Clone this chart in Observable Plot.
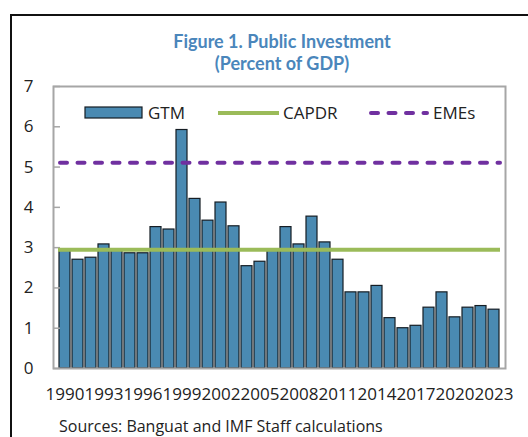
<!DOCTYPE html>
<html>
<head>
<meta charset="utf-8">
<script src="https://cdn.jsdelivr.net/npm/d3@7"></script>
<script src="https://cdn.jsdelivr.net/npm/@observablehq/plot@0.6"></script>
<style>
  html, body { margin: 0; padding: 0; background: #fff; overflow: hidden; }
  #wrap { position: relative; width: 528px; height: 437px; overflow: hidden; }
  #border { position: absolute; left: 10px; top: 14px; width: 700px; height: 700px;
            border-left: 2px solid #111; border-top: 2px solid #111; }
  #overlay { position: absolute; left: 0; top: 0; }
</style>
</head>
<body>
<div id="wrap"><div id="border"></div></div>
<script>
const years = d3.range(1990, 2024);
const gtm = [2.95, 2.70, 2.75, 3.08, 2.92, 2.86, 2.86, 3.51, 3.45, 5.92,
             4.21, 3.67, 4.12, 3.53, 2.54, 2.65, 2.93, 3.51, 3.08, 3.77,
             3.13, 2.70, 1.89, 1.89, 2.05, 1.25, 1.00, 1.06, 1.51, 1.89,
             1.27, 1.51, 1.55, 1.46];
const capdr = 2.95;
const emes = 5.11;
const yTicks = [0, 1, 2, 3, 4, 5, 6, 7];
const xTicks = [1990, 1993, 1996, 1999, 2002, 2005, 2008, 2011, 2014, 2017, 2020, 2023];
const titleLines = ["Figure 1. Public Investment", "(Percent of GDP)"];
const legendLabels = ["GTM", "CAPDR", "EMEs"];
const sourceText = "Sources: Banguat and IMF Staff calculations";

const data = years.map((year, i) => ({year, value: gtm[i]}));
const barFill = "#4a8ab2";
const font = "'Open Sans', sans-serif";

const chart = Plot.plot({
  width: 528,
  height: 437,
  marginLeft: 53,
  marginRight: 23,
  marginTop: 86,
  marginBottom: 69,
  style: {fontFamily: font, fontSize: "17px", color: "#222", background: "transparent"},
  x: {type: "band", domain: years, paddingInner: 0.14, paddingOuter: 0.07},
  y: {domain: [0, 7]},
  marks: [
    Plot.barY(data, {x: "year", y: "value", fill: barFill, stroke: "#151d24", strokeWidth: 1.2}),
    Plot.ruleY(yTicks, {stroke: "#a6a6a6", strokeWidth: 1.5, insetRight: 445}),
    Plot.ruleY([capdr], {stroke: "#9bbb59", strokeWidth: 4, insetLeft: 5, insetRight: 5}),
    Plot.ruleY([emes], {stroke: "#7030a0", strokeWidth: 4, strokeDasharray: "7,10.5", strokeLinecap: "round", insetLeft: 7, insetRight: 5}),
    Plot.frame({stroke: "#a6a6a6", strokeWidth: 2}),
    Plot.axisY(yTicks, {tickSize: 0, tickPadding: 20, label: null, fontSize: 17, fill: "#222"}),
    Plot.axisX(xTicks, {tickSize: 0, tickPadding: 19, label: null, fontSize: 17, fill: "#222", tickFormat: d => String(d)})
  ]
});
const wrap = document.getElementById("wrap");
wrap.insertBefore(chart, wrap.firstChild);

// Overlay: title, legend, source
const svg = d3.select(wrap).append("svg").attr("id", "overlay")
  .attr("width", 528).attr("height", 437);

svg.selectAll("text.title").data(titleLines).join("text")
  .attr("class", "title")
  .attr("x", 282).attr("y", (d, i) => 48 + i * 22)
  .attr("text-anchor", "middle")
  .attr("font-family", "Lato, sans-serif").attr("font-weight", "bold")
  .attr("font-size", 18).attr("fill", "#4a86bb")
  .text(d => d);

const lg = svg.append("g").attr("font-family", font).attr("font-size", 17).attr("fill", "#222");
lg.append("rect").attr("x", 85).attr("y", 107).attr("width", 57).attr("height", 11)
  .attr("fill", barFill).attr("stroke", "#151d24").attr("stroke-width", 1.2);
lg.append("text").attr("x", 148).attr("y", 119).text(legendLabels[0]);
lg.append("line").attr("x1", 218).attr("x2", 279).attr("y1", 113).attr("y2", 113)
  .attr("stroke", "#9bbb59").attr("stroke-width", 4);
lg.append("text").attr("x", 283).attr("y", 119).text(legendLabels[1]);
lg.append("line").attr("x1", 371).attr("x2", 427).attr("y1", 113).attr("y2", 113)
  .attr("stroke", "#7030a0").attr("stroke-width", 4)
  .attr("stroke-dasharray", "7,10.5").attr("stroke-linecap", "round");
lg.append("text").attr("x", 433).attr("y", 119).text(legendLabels[2]);

svg.append("text").attr("x", 59).attr("y", 432)
  .attr("font-family", font).attr("font-size", 16).attr("fill", "#222")
  .text(sourceText);
</script>
</body>
</html>
